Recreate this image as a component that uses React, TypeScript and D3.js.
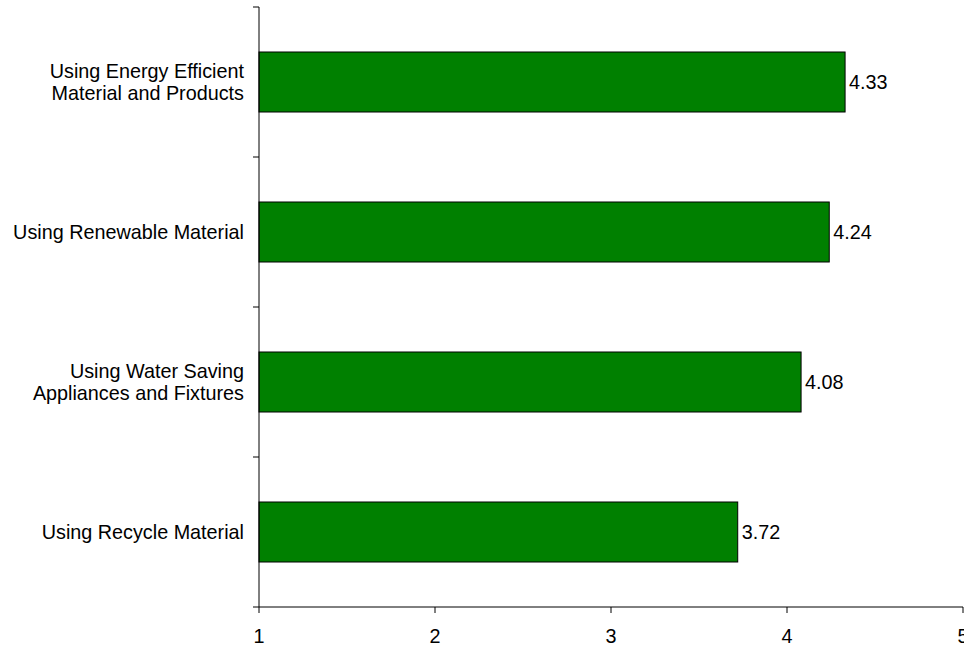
import React from "react";
import * as d3 from "d3";

const categories: string[][] = [
  ["Using Energy Efficient", "Material and Products"],
  ["Using Renewable Material"],
  ["Using Water Saving", "Appliances and Fixtures"],
  ["Using Recycle Material"],
];
const values: number[] = [4.33, 4.24, 4.08, 3.72];
const xTicks: number[] = [1, 2, 3, 4, 5];

export default function App() {
  const W = 964, H = 646;
  const left = 259, right = 963, top = 7, bottom = 607;
  const x = d3.scaleLinear().domain([1, 5]).range([left, right]);
  const ids = categories.map((_, i) => String(i));
  const y = d3.scaleBand().domain(ids).range([top, bottom]).paddingInner(0.6).paddingOuter(0.3);
  const yBoundaries = d3.range(categories.length + 1).map((i) => top + (i * (bottom - top)) / categories.length);
  const font = "'Liberation Sans', Arial, sans-serif";
  const fs = 19.8;
  return (
    <svg width={W} height={H} style={{ position: "absolute", left: 0, top: 0, background: "#fff" }} fontFamily={font}>
      {values.map((v, i) => (
        <g key={i}>
          <rect x={x(1)} y={y(String(i))!} width={x(v) - x(1)} height={y.bandwidth()} fill="#008000" stroke="#000" strokeWidth={1} />
          <text x={x(v) + 4} y={y(String(i))! + y.bandwidth() / 2} dy="0.35em" fontSize={fs} fill="#000">
            {v.toFixed(2)}
          </text>
          {categories[i].map((line, j) => (
            <text
              key={j}
              x={244}
              y={y(String(i))! + y.bandwidth() / 2 + (j - (categories[i].length - 1) / 2) * 22.5}
              dy="0.35em"
              textAnchor="end"
              fontSize={fs}
              fill="#000"
            >
              {line}
            </text>
          ))}
        </g>
      ))}
      <line x1={left} x2={left} y1={top} y2={bottom} stroke="#000" />
      <line x1={left} x2={right} y1={bottom} y2={bottom} stroke="#000" />
      {yBoundaries.map((b, i) => (
        <line key={i} x1={left - 6} x2={left} y1={b} y2={b} stroke="#000" />
      ))}
      {xTicks.map((t) => (
        <g key={t}>
          <line x1={x(t)} x2={x(t)} y1={bottom} y2={bottom + 6} stroke="#000" />
          <text x={x(t)} y={bottom + 29} dy="0.35em" textAnchor="middle" fontSize={fs} fill="#000">
            {t}
          </text>
        </g>
      ))}
    </svg>
  );
}
